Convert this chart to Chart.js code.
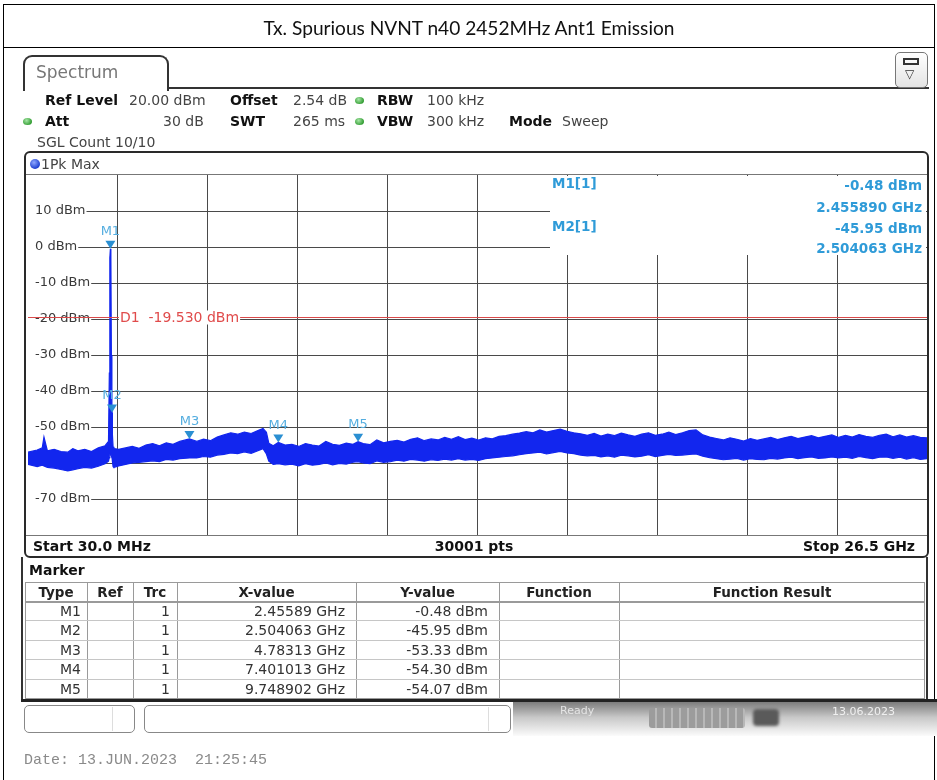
<!DOCTYPE html>
<html><head><meta charset="utf-8"><title>Tx. Spurious NVNT n40 2452MHz Ant1 Emission</title>
<script src="https://cdn.jsdelivr.net/npm/chart.js@4.4.1/dist/chart.umd.min.js"></script>
<style>
html,body{margin:0;padding:0;background:#fff;}
#page{position:relative;width:937px;height:780px;overflow:hidden;font-family:"DejaVu Sans",sans-serif;color:#222;}
#c{position:absolute;left:0;top:0;}
.t{position:absolute;white-space:nowrap;line-height:16px;height:16px;font-size:14px;}
.b{font-weight:bold;color:#111;}
.v{color:#444;}
.ln{position:absolute;box-sizing:border-box;}
.dot{position:absolute;width:9px;height:7px;border-radius:50%;background:radial-gradient(circle at 40% 35%,#a6e6a6,#2e9a2e 75%);}
.mi{position:absolute;white-space:nowrap;font-size:13.5px;font-weight:bold;line-height:16px;color:#2f9bd8;}
.cell{position:absolute;white-space:nowrap;font-size:14px;line-height:19px;color:#333;}
</style></head>
<body><div id="page">
<canvas id="c" width="937" height="780"></canvas>

<!-- outer frame and title band -->
<div class="ln" style="left:3px;top:4px;width:932px;height:800px;border:1px solid #000;"></div>
<div class="ln" style="left:3px;top:47px;width:932px;height:1px;background:#000;"></div>
<div style="position:absolute;left:4px;top:17px;width:930px;text-align:center;line-height:22px;"><span id="titletxt" style="font-family:Lato,'Noto Sans',sans-serif;font-size:18px;color:#111;white-space:nowrap;">Tx. Spurious NVNT n40 2452MHz Ant1 Emission</span></div>

<!-- tab -->
<div class="ln" style="left:23px;top:55px;width:146px;height:36px;border:2px solid #333;border-bottom:none;border-radius:9px 9px 0 0;"></div>
<div class="ln" style="left:167px;top:87px;width:762px;height:2px;background:#333;"></div>
<div class="t" style="left:36px;top:62px;font-size:17px;line-height:20px;height:20px;color:#777;">Spectrum</div>
<div class="ln" style="left:895px;top:52px;width:33px;height:36px;border:1px solid #777;border-radius:5px;background:linear-gradient(#fff,#e4e4e4);"></div>
<div class="ln" style="left:903px;top:58px;width:16px;height:7px;border:2px solid #333;"></div>
<div class="t" style="left:905px;top:66px;font-size:12px;color:#333;">▽</div>

<!-- header settings -->
<div class="t b" style="left:45px;top:92px;">Ref Level</div>
<div class="t v" style="left:129px;top:92px;">20.00 dBm</div>
<div class="t b" style="left:230px;top:92px;">Offset</div>
<div class="t v" style="left:293px;top:92px;">2.54 dB</div>
<div class="dot" style="left:355px;top:97px;"></div>
<div class="t b" style="left:377px;top:92px;">RBW</div>
<div class="t v" style="left:427px;top:92px;">100 kHz</div>

<div class="dot" style="left:23px;top:118px;"></div>
<div class="t b" style="left:45px;top:113px;">Att</div>
<div class="t v" style="left:163px;top:113px;width:40px;text-align:right;">30 dB</div>
<div class="t b" style="left:230px;top:113px;">SWT</div>
<div class="t v" style="left:293px;top:113px;">265 ms</div>
<div class="dot" style="left:355px;top:118px;"></div>
<div class="t b" style="left:377px;top:113px;">VBW</div>
<div class="t v" style="left:427px;top:113px;">300 kHz</div>
<div class="t b" style="left:509px;top:113px;">Mode</div>
<div class="t v" style="left:562px;top:113px;">Sweep</div>
<div class="t v" style="left:37px;top:134px;">SGL Count 10/10</div>

<!-- plot frame -->
<div class="ln" style="left:24px;top:151px;width:905px;height:407px;border:2px solid #2a2a2a;border-radius:6px;"></div>
<div class="ln" style="left:26px;top:174px;width:901px;height:1px;background:#777;"></div>
<div class="ln" style="left:26px;top:535px;width:901px;height:1px;background:#777;"></div>
<div class="ln" style="left:30px;top:159px;width:10px;height:10px;border-radius:50%;background:radial-gradient(circle at 40% 35%,#8fa8ff,#1d3fd0 70%);"></div>
<div class="t v" style="left:41px;top:156px;">1Pk Max</div>
<div class="t b" style="left:33px;top:538px;">Start 30.0 MHz</div>
<div class="t b" style="left:374px;top:538px;width:200px;text-align:center;">30001 pts</div>
<div class="t b" style="left:715px;top:538px;width:200px;text-align:right;">Stop 26.5 GHz</div>

<!-- marker info box inside the diagram -->
<div class="ln" style="left:550px;top:176px;width:376px;height:79px;background:#fff;"></div>
<div id="mi"></div>

<!-- marker table panel -->
<div class="ln" style="left:21px;top:557px;width:2px;height:144px;background:#333;"></div>
<div class="ln" style="left:926px;top:557px;width:2px;height:144px;background:#333;"></div>
<div class="ln" style="left:21px;top:699px;width:916px;height:3px;background:#222;"></div>
<div class="t b" style="left:29px;top:562px;">Marker</div>
<div id="tbl"></div>

<!-- status bar -->
<div class="ln" style="left:24px;top:705px;width:111px;height:28px;border:1px solid #888;border-radius:5px;background:#fff;"></div>
<div class="ln" style="left:112px;top:707px;width:1px;height:24px;background:#ddd;"></div>
<div class="ln" style="left:144px;top:705px;width:367px;height:28px;border:1px solid #888;border-radius:5px;background:#fff;"></div>
<div class="ln" style="left:488px;top:707px;width:1px;height:24px;background:#ddd;"></div>
<div class="ln" style="left:513px;top:702px;width:424px;height:34px;background:linear-gradient(#7c7c7c,#c8c8c8 45%,#fbfbfb);"></div>
<div class="ln" style="left:649px;top:708px;width:96px;height:20px;border-radius:3px;background:repeating-linear-gradient(90deg,#9c9c9c 0 6px,#b8b8b8 6px 8px);"></div>
<div class="ln" style="left:753px;top:709px;width:26px;height:17px;border-radius:4px;background:#5a5a5a;filter:blur(1.5px);"></div>
<div class="t" style="left:560px;top:703px;font-size:11px;color:#e4e4e4;">Ready</div>
<div class="t" style="left:832px;top:704px;font-size:11px;color:#f0f0f0;">13.06.2023</div>

<div class="t" style="left:24px;top:753px;font-family:'Liberation Mono','DejaVu Sans Mono',monospace;font-size:15px;color:#8a8a8a;white-space:pre;">Date: 13.JUN.2023  21:25:45</div>
</div>

<script>
// ---------------- data ----------------
const startGHz = 0.03;
const stopGHz = 26.5;
const refLevelDbm = 20;
const bottomDbm = -80;
const dbPerDiv = 10;

const freqGHz = [0.03,0.3,0.45,0.5,0.6,0.8,1.0,1.2,1.35,1.5,1.7,1.9,2.1,2.3,2.4,2.425,2.44,2.456,2.47,2.485,2.5,2.504,2.515,2.535,2.56,2.7,2.9,3.1,3.3,3.5,3.7,3.9,4.1,4.3,4.5,4.783,5.0,5.2,5.4,5.6,5.8,6.0,6.2,6.4,6.6,6.8,6.95,7.05,7.12,7.25,7.401,7.6,7.8,8.0,8.2,8.4,8.6,8.8,9.0,9.2,9.4,9.6,9.749,9.9,10.1,10.3,10.5,10.7,10.9,11.1,11.3,11.5,11.7,11.9,12.1,12.3,12.5,12.7,12.9,13.1,13.3,13.5,13.7,13.9,14.1,14.3,14.5,14.7,14.9,15.1,15.3,15.5,15.7,15.9,16.1,16.3,16.5,16.7,16.9,17.1,17.3,17.5,17.7,17.9,18.1,18.3,18.5,18.7,18.9,19.1,19.3,19.5,19.7,19.9,20.1,20.3,20.5,20.7,20.9,21.1,21.3,21.5,21.7,21.9,22.1,22.3,22.5,22.7,22.9,23.1,23.3,23.5,23.7,23.9,24.1,24.3,24.5,24.7,24.9,25.1,25.3,25.5,25.7,25.9,26.1,26.3,26.5];
// upper edge of the 1Pk Max trace (dBm)
const peakDbm = [-57.0,-56.4,-55.8,-52.8,-56.6,-56.2,-56.8,-57.0,-56.0,-56.6,-56.2,-56.8,-55.8,-55.2,-54.0,-35.0,-3.0,-0.48,-3.0,-30.0,-44.0,-45.95,-52.0,-55.5,-56.0,-56.2,-55.8,-55.4,-55.9,-55.0,-54.6,-55.2,-54.4,-54.8,-54.0,-53.33,-54.0,-53.4,-53.8,-52.8,-52.2,-51.6,-52.0,-51.4,-51.8,-51.0,-50.4,-51.5,-54.5,-55.2,-54.3,-55.0,-54.8,-55.4,-54.6,-55.0,-55.3,-54.0,-54.8,-55.1,-54.5,-54.8,-54.07,-54.6,-54.9,-53.6,-54.4,-54.0,-53.7,-54.2,-53.4,-53.0,-53.8,-53.3,-53.6,-52.9,-53.4,-52.7,-53.5,-53.1,-53.6,-53.0,-53.3,-52.6,-52.4,-52.0,-51.7,-51.3,-51.6,-50.8,-51.4,-51.0,-50.6,-51.2,-51.6,-51.9,-52.3,-51.8,-52.5,-52.0,-52.4,-51.7,-52.2,-52.6,-52.0,-51.6,-52.3,-52.0,-51.4,-52.1,-51.6,-51.0,-50.8,-52.2,-52.8,-53.2,-53.6,-53.0,-53.4,-53.9,-53.2,-53.7,-53.3,-52.9,-53.5,-53.0,-52.6,-53.2,-52.8,-52.4,-53.0,-52.6,-52.2,-52.9,-52.3,-52.8,-52.1,-52.6,-52.9,-52.3,-52.0,-52.7,-52.2,-52.8,-52.4,-52.9,-53.0];
// lower edge of the 1Pk Max trace (dBm)
const floorDbm = [-60.4,-61.0,-60.6,-60.8,-61.2,-61.4,-61.8,-62.2,-61.9,-61.6,-61.2,-61.4,-60.9,-60.2,-59.5,-58.5,-57.5,-57.5,-57.5,-58.0,-58.5,-58.5,-59.5,-61.0,-61.2,-60.8,-60.4,-60.0,-59.8,-59.6,-59.4,-59.6,-59.0,-59.2,-58.8,-58.6,-58.6,-58.2,-58.4,-57.8,-57.6,-57.2,-57.4,-56.9,-57.3,-56.6,-56.0,-57.5,-59.5,-60.4,-60.2,-60.5,-60.3,-60.8,-60.2,-60.6,-60.4,-60.0,-60.5,-60.1,-60.3,-59.8,-59.6,-60.0,-60.2,-59.4,-59.8,-59.6,-59.2,-59.5,-59.0,-59.2,-59.5,-59.1,-59.3,-58.9,-59.2,-58.8,-59.2,-59.0,-59.3,-58.8,-58.6,-58.4,-58.2,-58.0,-57.7,-57.4,-57.2,-57.0,-57.5,-57.1,-56.8,-57.2,-57.4,-57.8,-58.0,-57.9,-58.3,-58.0,-58.4,-57.8,-58.0,-58.3,-58.1,-57.7,-58.2,-57.9,-57.6,-57.9,-57.8,-57.6,-57.5,-58.1,-58.5,-58.8,-59.1,-58.9,-58.7,-59.2,-58.8,-59.0,-59.1,-58.7,-58.9,-58.6,-58.4,-58.8,-58.5,-58.3,-58.7,-58.6,-58.3,-58.6,-58.4,-58.7,-58.2,-58.5,-58.8,-58.4,-58.3,-58.7,-58.4,-58.9,-58.5,-59.0,-58.8];

const markerNames = ['M1','M2','M3','M4','M5'];
const markerTrace = [1,1,1,1,1];
const markerFreqGHz = [2.45589, 2.504063, 4.78313, 7.401013, 9.748902];
const markerDbm = [-0.48, -45.95, -53.33, -54.30, -54.07];
const displayLineName = 'D1';
const displayLineDbm = -19.53;
const tableHeaders = ['Type','Ref','Trc','X-value','Y-value','Function','Function Result'];

// ---------------- layout ----------------
const plot = {left:28, top:175, right:927, bottom:535};
const TRACE = '#1226ee';

// title width fit
(function(){
  const s = document.getElementById('titletxt');
  const w = s.getBoundingClientRect().width;
  s.style.fontSize = (18 * 411 / w).toFixed(2) + 'px';
})();

// marker info box (M1 / M2)
(function(){
  const box = document.getElementById('mi');
  const rows = [
    {l: markerNames[0] + '[' + markerTrace[0] + ']', v: markerDbm[0].toFixed(2) + ' dBm', y: 175},
    {l: '', v: markerFreqGHz[0].toFixed(6) + ' GHz', y: 197},
    {l: markerNames[1] + '[' + markerTrace[1] + ']', v: markerDbm[1].toFixed(2) + ' dBm', y: 218},
    {l: '', v: markerFreqGHz[1].toFixed(6) + ' GHz', y: 238}
  ];
  let h = '';
  rows.forEach(r => {
    if (r.l) h += '<div class="mi" style="left:552px;top:' + r.y + 'px;">' + r.l + '</div>';
    h += '<div class="mi" style="left:700px;width:222px;text-align:right;top:' + (r.y + 2) + 'px;">' + r.v + '</div>';
  });
  box.innerHTML = h;
})();

// marker table
(function(){
  const edges = [25, 87, 133, 177, 356, 499, 619, 925];
  const top = 582, headH = 19, rowH = 19.4;
  const tblH = headH + rowH * markerNames.length;
  let h = '<div class="ln" style="left:25px;top:' + top + 'px;width:900px;height:' + (tblH + 1) + 'px;border:1px solid #9a9a9a;"></div>';
  for (let i = 1; i < edges.length - 1; i++)
    h += '<div class="ln" style="left:' + edges[i] + 'px;top:' + top + 'px;width:1px;height:' + tblH + 'px;background:#9a9a9a;"></div>';
  h += '<div class="ln" style="left:25px;top:' + (top + headH) + 'px;width:900px;height:2px;background:#9a9a9a;"></div>';
  for (let r = 1; r < markerNames.length; r++)
    h += '<div class="ln" style="left:26px;top:' + Math.round(top + headH + r * rowH) + 'px;width:898px;height:1px;background:#c6c6c6;"></div>';
  tableHeaders.forEach((t, i) => {
    h += '<div class="cell" style="left:' + edges[i] + 'px;width:' + (edges[i+1] - edges[i]) + 'px;text-align:center;top:' + (top + 1) + 'px;font-weight:bold;font-size:13.5px;color:#222;">' + t + '</div>';
  });
  markerNames.forEach((m, r) => {
    const y = Math.round(top + headH + 1 + r * rowH);
    const vals = [m, '', String(markerTrace[r]), markerFreqGHz[r] + ' GHz', markerDbm[r].toFixed(2) + ' dBm', '', ''];
    const pad = [6, 6, 7, 11, 11, 6, 6];
    vals.forEach((v, i) => {
      if (!v) return;
      h += '<div class="cell" style="left:' + edges[i] + 'px;width:' + (edges[i+1] - edges[i] - pad[i]) + 'px;text-align:right;top:' + y + 'px;">' + v + '</div>';
    });
  });
  document.getElementById('tbl').innerHTML = h;
})();

// ---------------- chart ----------------
const markerPlugin = {
  id: 'markers',
  afterDatasetsDraw(chart) {
    const {ctx, chartArea, scales: {x, y}} = chart;
    ctx.save();
    // display line D1
    const yl = Math.round(y.getPixelForValue(displayLineDbm)) + 0.5;
    ctx.strokeStyle = '#d94a4a';
    ctx.lineWidth = 1;
    ctx.beginPath(); ctx.moveTo(chartArea.left, yl); ctx.lineTo(chartArea.right, yl); ctx.stroke();
    ctx.font = '14px "DejaVu Sans"';
    ctx.textBaseline = 'middle';
    ctx.textAlign = 'left';
    const txt = displayLineName + '  ' + displayLineDbm.toFixed(3) + ' dBm';
    const tx = chartArea.left + chartArea.width / 10 + 2;
    const tw = ctx.measureText(txt).width;
    ctx.fillStyle = '#fff';
    ctx.fillRect(tx - 1, yl - 7, tw + 2, 14);
    ctx.fillStyle = '#e04b4b';
    ctx.fillText(txt, tx, yl + 1);
    // markers
    ctx.font = '13px "DejaVu Sans"';
    ctx.textAlign = 'center';
    markerNames.forEach((m, i) => {
      const px = x.getPixelForValue(markerFreqGHz[i]);
      const py = y.getPixelForValue(markerDbm[i]);
      ctx.fillStyle = '#2a8fd2';
      ctx.beginPath();
      ctx.moveTo(px - 5, py - 8); ctx.lineTo(px + 5, py - 8); ctx.lineTo(px, py); ctx.closePath();
      ctx.fill();
      ctx.fillStyle = '#55aee0';
      ctx.fillText(m, px, py - 17);
    });
    ctx.restore();
  }
};

new Chart(document.getElementById('c'), {
  type: 'line',
  data: {
    datasets: [
      {label: '1Pk Max', data: freqGHz.map((f, i) => ({x: f, y: peakDbm[i]})),
       borderColor: TRACE, backgroundColor: TRACE, borderWidth: 1.2, pointRadius: 0, tension: 0, fill: '+1'},
      {label: '1Pk Max (min edge)', data: freqGHz.map((f, i) => ({x: f, y: floorDbm[i]})),
       borderColor: TRACE, borderWidth: 1.2, pointRadius: 0, tension: 0, fill: false}
    ]
  },
  options: {
    responsive: false, animation: false, devicePixelRatio: 1,
    layout: {padding: {left: plot.left, top: plot.top, right: 937 - plot.right, bottom: 780 - plot.bottom}},
    plugins: {legend: {display: false}, tooltip: {enabled: false}, title: {display: false}},
    scales: {
      x: {
        type: 'linear', min: startGHz, max: stopGHz,
        afterBuildTicks: s => { s.ticks = Array.from({length: 11}, (_, i) => ({value: startGHz + i * (stopGHz - startGHz) / 10})); },
        ticks: {display: false},
        grid: {color: c => (c.index === 0 || c.index === 10) ? 'rgba(0,0,0,0)' : '#4a4a4a', lineWidth: 1, drawTicks: false},
        border: {display: false},
        afterFit: s => { s.height = 0; }
      },
      y: {
        min: bottomDbm, max: refLevelDbm,
        ticks: {
          stepSize: dbPerDiv, mirror: true, padding: 7, color: '#3a3a3a',
          font: {family: 'DejaVu Sans', size: 13},
          showLabelBackdrop: true, backdropColor: '#fff',
          backdropPadding: {left: 7, right: 1, top: 0, bottom: 0},
          callback: v => (v === refLevelDbm || v === bottomDbm) ? null : v + ' dBm'
        },
        grid: {color: '#4a4a4a', lineWidth: 1, drawTicks: false},
        border: {display: false},
        afterFit: s => { s.width = 0; }
      }
    }
  },
  plugins: [markerPlugin]
});
</script>
</body></html>
